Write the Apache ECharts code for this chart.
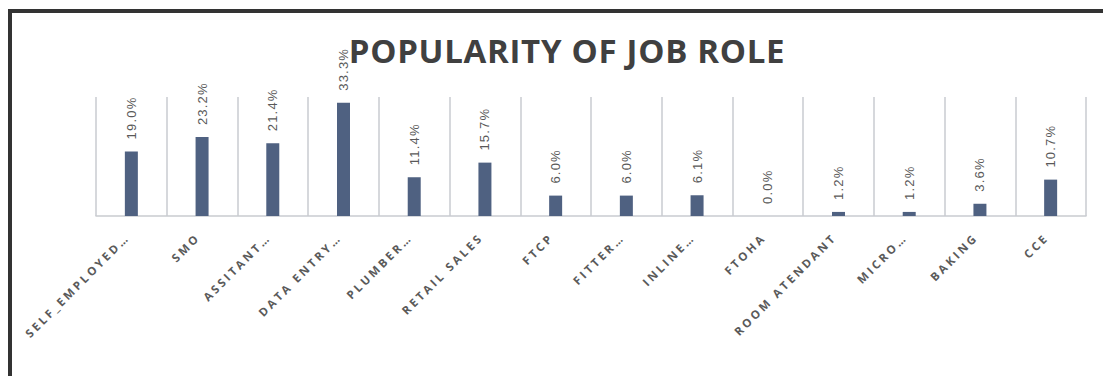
<!DOCTYPE html>
<html>
<head>
<meta charset="utf-8">
<title>Popularity of Job Role</title>
<script src="https://cdn.jsdelivr.net/npm/echarts@6/dist/echarts.min.js"></script>
<style>
  html, body { margin: 0; padding: 0; background: #ffffff; }
  #chart { width: 1103px; height: 376px; }
  /* Excel-style tracking on the chart texts */
  #chart text[fill="#5a5a5a"] { letter-spacing: 2.8px; }
  #chart text[fill="#595959"] { letter-spacing: 1.2px; }
  #chart text[fill="#404040"] { letter-spacing: 0.7px; }
</style>
</head>
<body>
<div id="chart"></div>
<script>
// Job roles shown on the category axis
const categories = [
  'SELF_EMPLOYED\u2026', 'SMO', 'ASSITANT\u2026', 'DATA ENTRY\u2026', 'PLUMBER\u2026',
  'RETAIL SALES', 'FTCP', 'FITTER\u2026', 'INLINE\u2026', 'FTOHA',
  'ROOM ATENDANT', 'MICRO\u2026', 'BAKING', 'CCE'
];

// Share of respondents choosing each role (%)
const popularity = [19.0, 23.2, 21.4, 33.3, 11.4, 15.7, 6.0, 6.0, 6.1, 0.0, 1.2, 1.2, 3.6, 10.7];

const chartTitle = 'POPULARITY OF JOB ROLE';

const chart = echarts.init(document.getElementById('chart'), null, { renderer: 'svg' });

chart.setOption({
  animation: false,
  backgroundColor: '#ffffff',
  title: {
    text: chartTitle,
    left: 562,
    textAlign: 'center',
    top: 29,
    textStyle: {
      fontFamily: 'Open Sans',
      fontWeight: 'bold',
      fontSize: 33,
      color: '#404040'
    }
  },
  graphic: [
    // dark frame along the top and left edges
    { type: 'rect', shape: { x: 8, y: 9, width: 1095, height: 4 }, style: { fill: '#333333' }, z: 100 },
    { type: 'rect', shape: { x: 8, y: 9, width: 4, height: 367 }, style: { fill: '#333333' }, z: 100 }
  ],
  grid: { left: 96, right: 17, top: 97, bottom: 160, containLabel: false },
  xAxis: {
    type: 'category',
    data: categories,
    boundaryGap: true,
    axisLine: { show: true, lineStyle: { color: '#c9cbd0', width: 1.5 } },
    axisTick: { show: false },
    splitLine: { show: true, interval: 0, lineStyle: { color: '#c9cbd0', width: 1.5 } },
    axisLabel: {
      interval: 0,
      rotate: 45,
      margin: 15,
      padding: [0, 6, 0, 0],
      fontFamily: 'Open Sans',
      fontWeight: 'bold',
      fontSize: 11.5,
      color: '#5a5a5a'
    }
  },
  yAxis: {
    type: 'value',
    min: 0,
    max: 35,
    show: false,
    splitLine: { show: false }
  },
  series: [{
    type: 'bar',
    data: popularity,
    barWidth: 13,
    itemStyle: { color: '#4f6181' },
    label: {
      show: true,
      position: 'top',
      distance: 12,
      rotate: 90,
      align: 'left',
      verticalAlign: 'middle',
      fontFamily: 'Liberation Sans',
      fontSize: 13,
      color: '#595959',
      formatter: p => p.value.toFixed(1) + '%'
    }
  }]
});
</script>
</body>
</html>
